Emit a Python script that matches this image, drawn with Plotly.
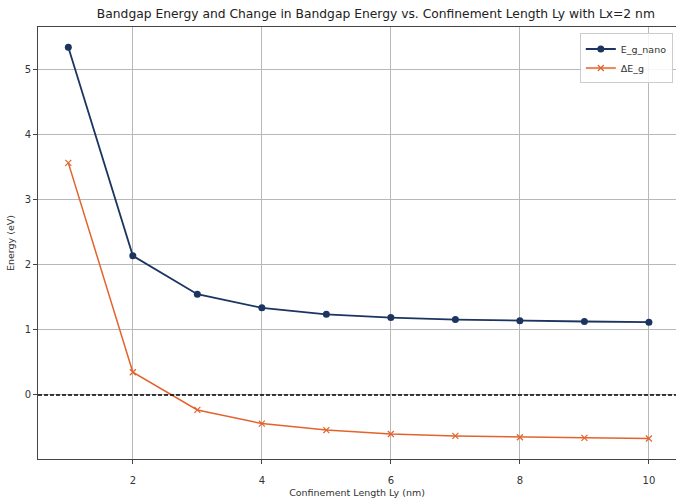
import plotly.graph_objects as go

ly = [1, 2, 3, 4, 5, 6, 7, 8, 9, 10]
eg_nano = [5.35, 2.14, 1.55, 1.34, 1.24, 1.19, 1.16, 1.14, 1.13, 1.12]
delta_eg = [3.57, 0.35, -0.23, -0.44, -0.54, -0.60, -0.63, -0.65, -0.66, -0.67]
x_ticks = [2, 4, 6, 8, 10]
y_ticks = [0, 1, 2, 3, 4, 5]

navy = "#1c3560"
orange = "#e2642c"
font = "DejaVu Sans"

fig = go.Figure()
fig.add_trace(go.Scatter(
    x=ly, y=eg_nano, mode="lines+markers", name="E_g_nano",
    line=dict(color=navy, width=1.8),
    marker=dict(symbol="circle", size=7, color=navy),
))
fig.add_trace(go.Scatter(
    x=ly, y=delta_eg, mode="lines+markers", name="ΔE_g",
    line=dict(color=orange, width=1.5),
    marker=dict(symbol="x-thin", size=6, color=orange, line=dict(color=orange, width=1.2)),
))
fig.add_hline(y=0, line=dict(color="black", width=1.4, dash="4px,2px"))

fig.update_layout(
    width=676, height=502,
    margin=dict(l=38, r=0, t=27, b=43),
    paper_bgcolor="white", plot_bgcolor="white",
    font=dict(family=font, size=10, color="#333"),
    title=dict(text="Bandgap Energy and Change in Bandgap Energy vs. Confinement Length Ly with Lx=2 nm",
               x=0.556, xanchor="center", y=0.972, yanchor="middle",
               font=dict(size=12.3, color="#222")),
    showlegend=True,
    legend=dict(x=0.995, y=0.985, xanchor="right", yanchor="top",
                bgcolor="rgba(255,255,255,0.85)", bordercolor="#ccc", borderwidth=1,
                font=dict(size=9.5), itemwidth=30, tracegroupgap=2),
    xaxis=dict(range=[0.53, 10.42], tickvals=x_ticks, showgrid=True, gridcolor="#b8b8b8", gridwidth=1,
               zeroline=False, showline=True, linecolor="#444", linewidth=1, mirror=True,
               ticks="outside", ticklen=4, tickcolor="#444", ticklabelstandoff=8,
               title=dict(text="Confinement Length Ly (nm)", font=dict(size=9.5), standoff=4)),
    yaxis=dict(range=[-0.985, 5.66], tickvals=y_ticks, showgrid=True, gridcolor="#b8b8b8", gridwidth=1,
               zeroline=False, showline=True, linecolor="#444", linewidth=1, mirror=True,
               ticks="outside", ticklen=4, tickcolor="#444",
               title=dict(text="Energy (eV)", font=dict(size=9.5), standoff=8)),
)

fig.write_html("out.html")
